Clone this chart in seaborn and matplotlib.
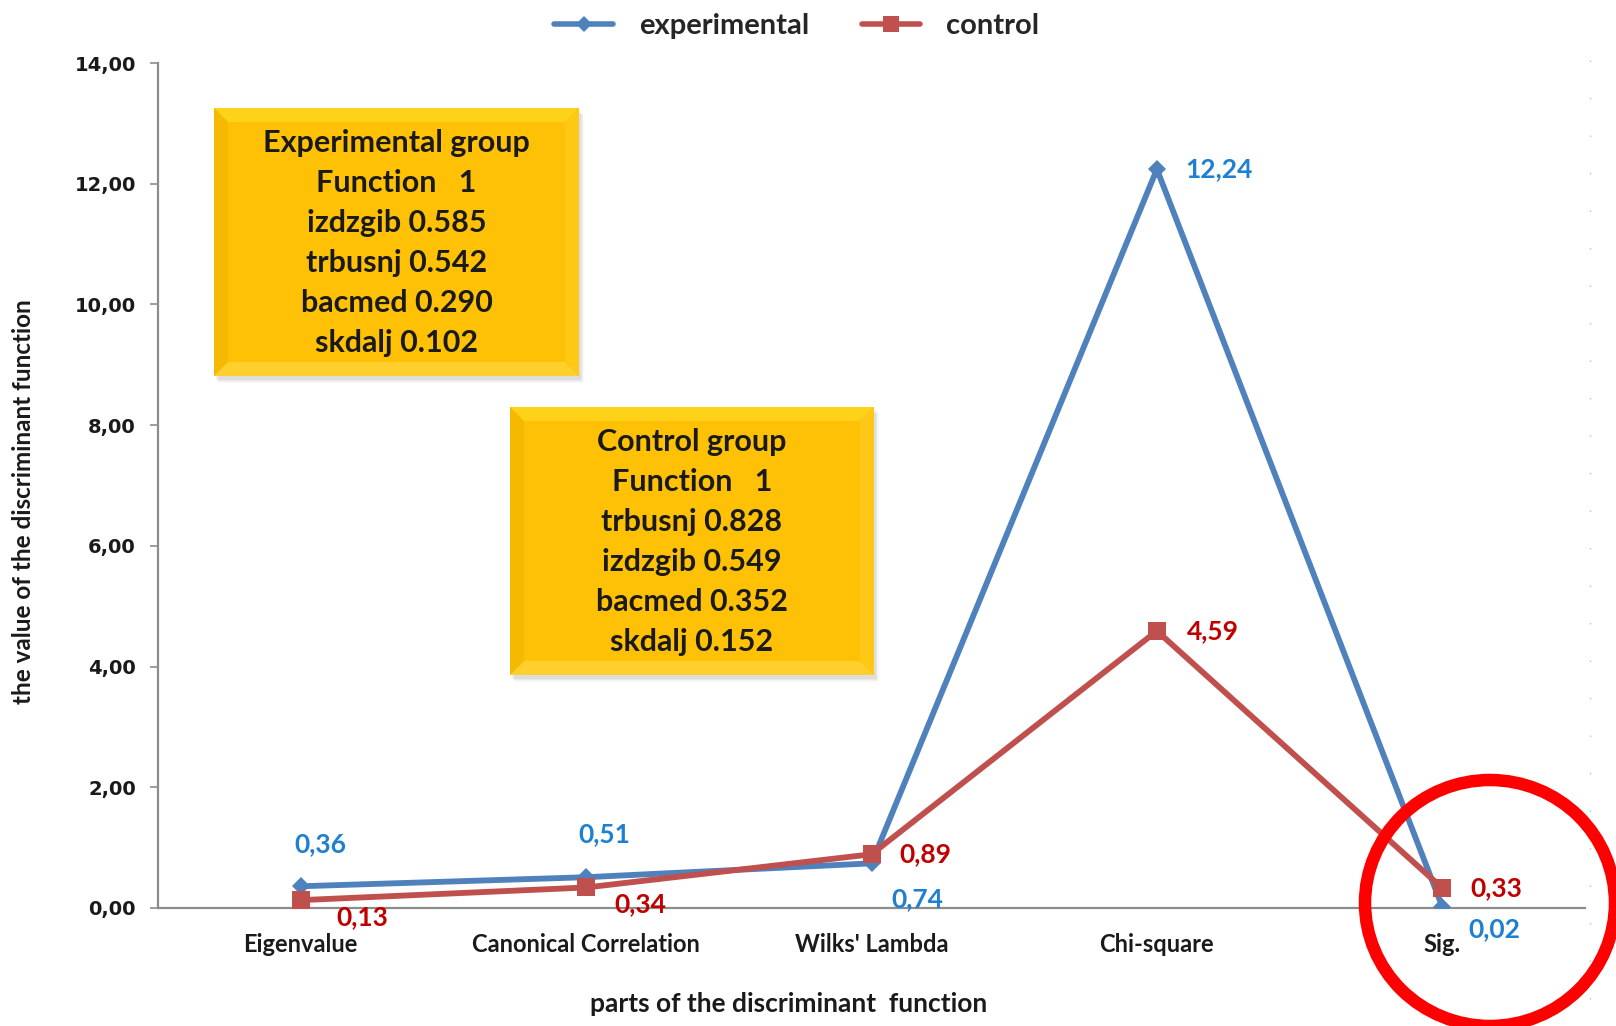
import numpy as np
import pandas as pd
import seaborn as sns
import matplotlib
matplotlib.use("Agg")
import matplotlib.pyplot as plt
from matplotlib.patches import Polygon, Rectangle, Ellipse
from matplotlib.lines import Line2D

# ---- data ----
categories = ["Eigenvalue", "Canonical Correlation", "Wilks' Lambda", "Chi-square", "Sig."]
experimental = [0.36, 0.51, 0.74, 12.24, 0.02]
control = [0.13, 0.34, 0.89, 4.59, 0.33]
series_names = ["experimental", "control"]
y_ticks = [0, 2, 4, 6, 8, 10, 12, 14]

exp_box_lines = ["Experimental group", "Function   1", "izdzgib 0.585",
                 "trbusnj 0.542", "bacmed 0.290", "skdalj 0.102"]
ctl_box_lines = ["Control group", "Function   1", "trbusnj 0.828",
                 "izdzgib 0.549", "bacmed 0.352", "skdalj 0.152"]

df = pd.DataFrame({
    "part": categories * 2,
    "pos": list(range(len(categories))) * 2,
    "value": experimental + control,
    "group": [series_names[0]] * len(categories) + [series_names[1]] * len(categories),
})

sns.set_theme(style="white")
plt.rcParams["font.family"] = ["Lato", "DejaVu Sans"]

BLUE = "#4F81BD"
RED = "#C0504D"
BLUE_TXT = "#1F7FD0"
RED_TXT = "#C00000"
DARK = "#1a1a1a"

W, H = 1616, 1026
fig = plt.figure(figsize=(W / 100, H / 100), dpi=100)
ax = fig.add_axes([158 / W, 1 - 908 / H, (1585 - 158) / W, (908 - 63) / H])

sns.lineplot(data=df, x="pos", y="value", hue="group", style="group",
             palette={"experimental": BLUE, "control": RED},
             markers={"experimental": "D", "control": "s"},
             dashes=False, linewidth=4.2, markersize=13, markeredgewidth=0,
             legend=False, ax=ax, zorder=3)
# diamond slightly smaller than the square
for ln in ax.lines:
    if ln.get_marker() == "D":
        ln.set_markersize(9)

ax.set_xlim(-0.5, 4.5)
ax.set_ylim(0, 14)
ax.set_yticks(y_ticks)
ax.set_yticklabels([f"{v:.2f}".replace(".", ",") for v in y_ticks],
                   family="DejaVu Sans", fontweight="bold", fontsize=14, color=DARK)
ax.set_xticks(range(len(categories)))
ax.set_xticklabels(categories, fontweight="bold", fontsize=17, color=DARK)
ax.tick_params(axis="x", length=0, pad=18)
ax.tick_params(axis="y", length=6, width=1.2, color="#8c8c8c", left=True, pad=10)
for s in ["top", "right"]:
    ax.spines[s].set_visible(False)
for s in ["left", "bottom"]:
    ax.spines[s].set_color("#8c8c8c")
    ax.spines[s].set_linewidth(1.6)
ax.set_xlabel("")
ax.set_ylabel("")

# axis titles placed in figure space
fig.text(789 / W, 1 - 1004 / H, "parts of the discriminant  function", ha="center",
         va="center", fontweight="bold", fontsize=19, color=DARK)
fig.text(24 / W, 1 - 502 / H, "the value of the discriminant function", ha="center",
         va="center", rotation=90, fontweight="bold", fontsize=17.5, color=DARK)

# data labels
exp_off = [(20, 42), (18, 43), (46, -36), (62, 0), (52, -22)]
ctl_off = [(62, -17), (54, -17), (54, 0), (56, 0), (54, 0)]
for i, v in enumerate(experimental):
    ax.annotate(f"{v:.2f}".replace(".", ","), (i, v), xytext=exp_off[i],
                textcoords="offset pixels", ha="center", va="center",
                color=BLUE_TXT, fontsize=19, fontweight="bold")
for i, v in enumerate(control):
    ax.annotate(f"{v:.2f}".replace(".", ","), (i, v), xytext=ctl_off[i],
                textcoords="offset pixels", ha="center", va="center",
                color=RED_TXT, fontsize=19, fontweight="bold")

# legend on top
handles = [Line2D([], [], color=BLUE, lw=4, marker="D", markersize=8, markeredgewidth=0),
           Line2D([], [], color=RED, lw=4, marker="s", markersize=12, markeredgewidth=0)]
fig.legend(handles, series_names, loc="center", bbox_to_anchor=(797 / W, 1 - 26 / H),
           ncol=2, frameon=False, prop={"weight": "bold", "size": 21},
           handlelength=2.0, columnspacing=1.8, handletextpad=0.9)

# overlay in pixel space for annotation boxes and the highlight ring
ov = fig.add_axes([0, 0, 1, 1], zorder=5)
ov.set_xlim(0, W)
ov.set_ylim(H, 0)
ov.axis("off")
ov.patch.set_alpha(0)


def bevel_box(x0, y0, x1, y1, lines, y_first, step):
    b = 14
    # soft shadow
    for k, a in enumerate([0.10, 0.08, 0.06, 0.04]):
        ov.add_patch(Rectangle((x0 + 2 + k, y0 + 4 + k), x1 - x0, y1 - y0,
                               facecolor="#7f7f7f", alpha=a, lw=0, zorder=1))
    ov.add_patch(Rectangle((x0, y0), x1 - x0, y1 - y0, facecolor="#FFC000", lw=0, zorder=2))
    ix0, iy0, ix1, iy1 = x0 + b, y0 + b, x1 - b, y1 - b
    ov.add_patch(Polygon([(x0, y0), (x1, y0), (ix1, iy0), (ix0, iy0)],
                         facecolor="#FFD21A", lw=0, zorder=3))
    ov.add_patch(Polygon([(x0, y0), (ix0, iy0), (ix0, iy1), (x0, y1)],
                         facecolor="#F4B900", lw=0, zorder=3))
    ov.add_patch(Polygon([(x0, y1), (ix0, iy1), (ix1, iy1), (x1, y1)],
                         facecolor="#FFCF2E", lw=0, zorder=3))
    ov.add_patch(Polygon([(x1, y0), (x1, y1), (ix1, iy1), (ix1, iy0)],
                         facecolor="#FFC814", lw=0, zorder=3))
    ov.add_patch(Rectangle((ix0, iy0), ix1 - ix0, iy1 - iy0, facecolor="#FFC106",
                           lw=0, zorder=3))
    cx = (x0 + x1) / 2
    for k, t in enumerate(lines):
        ov.text(cx, y_first + k * step, t, ha="center", va="center",
                fontsize=22, fontweight="bold", color=DARK, zorder=4)


bevel_box(214, 108, 579, 376, exp_box_lines, 143, 40)
bevel_box(510, 407, 874, 675, ctl_box_lines, 442, 40)

# faint dotted edge line on the right
ov.plot([1590, 1590], [60, 1000], color="#b8bcd8", lw=1, ls=(0, (1, 26)), zorder=1)

# highlight ring around the last category
ov.add_patch(Ellipse((1490, 903), 250, 246, facecolor="none", edgecolor="#FF0000",
                     lw=9, zorder=6))

fig.savefig("out.png", dpi=100)
